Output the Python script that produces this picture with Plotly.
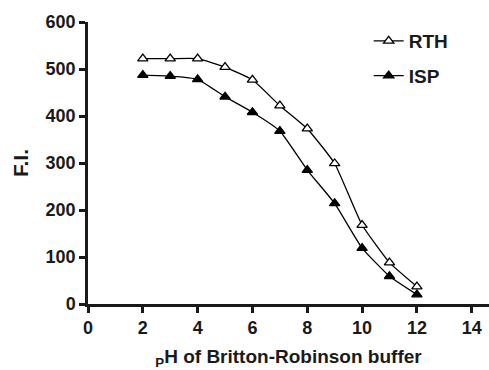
import plotly.graph_objects as go

ph = [2, 3, 4, 5, 6, 7, 8, 9, 10, 11, 12]
rth = [522, 522, 522, 504, 477, 422, 373, 299, 168, 88, 37]
isp = [487, 485, 478, 441, 408, 368, 285, 214, 119, 59, 20]

x_ticks = [0, 2, 4, 6, 8, 10, 12, 14]
y_ticks = [0, 100, 200, 300, 400, 500, 600]

FONT = "Liberation Sans, Arial, sans-serif"
INK = "#1a1a1a"

fig = go.Figure()
fig.add_trace(go.Scatter(
    x=ph, y=rth, name="<b>RTH</b>", mode="lines+markers", legendgroup="a",
    line=dict(color="black", width=1.3, shape="spline", smoothing=0.4),
    marker=dict(symbol="triangle-up", size=9, color="white",
                line=dict(color="black", width=1.3)),
    cliponaxis=False,
))
fig.add_trace(go.Scatter(
    x=ph, y=isp, name="<b>ISP</b>", mode="lines+markers", legendgroup="b",
    line=dict(color="black", width=1.3, shape="spline", smoothing=0.4),
    marker=dict(symbol="triangle-up", size=9, color="black",
                line=dict(color="black", width=1.3)),
    cliponaxis=False,
))

fig.update_layout(
    width=489, height=370,
    margin=dict(l=88, r=0, t=22, b=66),
    paper_bgcolor="white", plot_bgcolor="white",
    font=dict(family=FONT, color=INK, size=18),
    showlegend=True,
    legend=dict(x=0.70, y=1.0, xanchor="left", yanchor="top",
                font=dict(size=19, family=FONT, color=INK),
                tracegroupgap=7, bgcolor="rgba(0,0,0,0)"),
    xaxis=dict(
        range=[0, 14.63], tickvals=x_ticks, ticktext=[f"<b>{v}</b>" for v in x_ticks],
        showline=True, linecolor=INK, linewidth=2.5,
        ticks="outside", ticklen=6, tickwidth=2.5, tickcolor=INK,
        showgrid=False, zeroline=False,
        tickfont=dict(size=18, family=FONT, color=INK),
        title=dict(text="<b><sub>P</sub>H of Britton-Robinson buffer</b>",
                   font=dict(size=19, family=FONT, color=INK), standoff=16),
    ),
    yaxis=dict(
        range=[0, 600], tickvals=y_ticks, ticktext=[f"<b>{v}</b>" for v in y_ticks],
        showline=True, linecolor=INK, linewidth=2.5,
        ticks="outside", ticklen=6, tickwidth=2.5, tickcolor=INK,
        showgrid=False, zeroline=False,
        tickfont=dict(size=18, family=FONT, color=INK),
        title=dict(text="<b>F.I.</b>", font=dict(size=21, family=FONT, color=INK),
                   standoff=12),
    ),
)

fig.write_html("out.html")
